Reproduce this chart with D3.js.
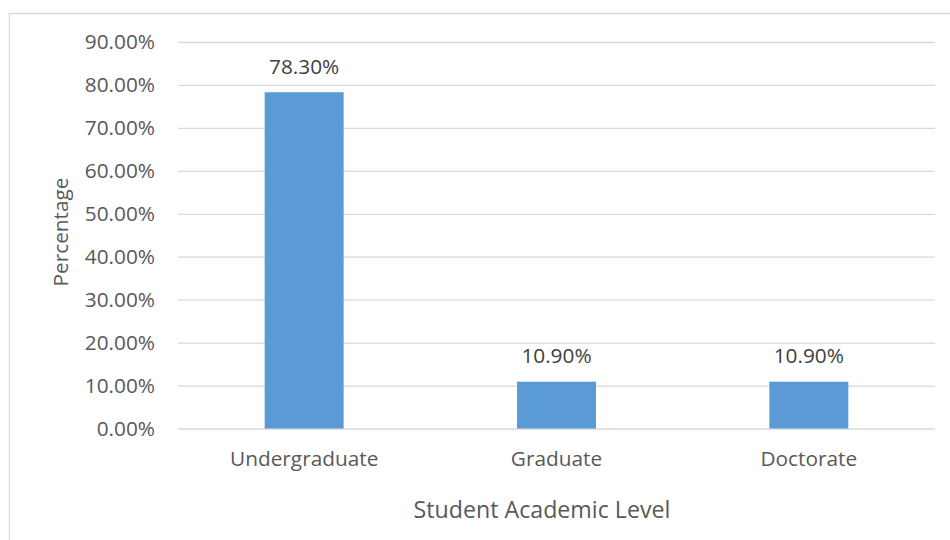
<!DOCTYPE html>
<html>
<head>
<meta charset="utf-8">
<script src="https://cdn.jsdelivr.net/npm/d3@7"></script>
<style>
  html, body { margin: 0; padding: 0; background: #fff; }
  svg { display: block; font-family: "Open Sans", sans-serif; }
</style>
</head>
<body>
<svg id="chart" width="950" height="540"></svg>
<script>
const categories = ["Undergraduate", "Graduate", "Doctorate"];
const values = [0.783, 0.109, 0.109];
const yTicks = [0, 0.1, 0.2, 0.3, 0.4, 0.5, 0.6, 0.7, 0.8, 0.9];
const yTitle = "Percentage";
const xTitle = "Student Academic Level";

const svg = d3.select("#chart");
const W = 950, H = 540;
const plot = { left: 178, right: 935, top: 42, bottom: 428.5 };
const FS = 20.8;
const TFS = 23.2;

// chart frame (top + left edges visible)
svg.append("path")
  .attr("d", `M9.5,${H} L9.5,13.5 L${W},13.5`)
  .attr("fill", "none").attr("stroke", "#d9d9d9").attr("stroke-width", 1.3);

const x = d3.scaleBand().domain(categories).range([plot.left, plot.right]).paddingInner(0.687).paddingOuter(0.3435);
const y = d3.scaleLinear().domain([0, 0.9]).range([plot.bottom, plot.top]);

// gridlines + y tick labels
const yAxis = d3.axisLeft(y).tickValues(yTicks).tickSize(-(plot.right - plot.left)).tickPadding(23)
  .tickFormat(d => (d * 100).toFixed(2) + "%");
const gy = svg.append("g").attr("transform", `translate(${plot.left},0)`).call(yAxis);
gy.attr("font-size", FS).attr("font-family", "Open Sans, sans-serif");
gy.select(".domain").remove();
gy.selectAll(".tick line").attr("stroke", "#d9d9d9").attr("stroke-width", 1.3);
gy.selectAll(".tick text").attr("fill", "#595959");

// bars
svg.append("g").selectAll("rect").data(values).join("rect")
  .attr("x", (d, i) => x(categories[i]))
  .attr("width", x.bandwidth())
  .attr("y", d => y(d))
  .attr("height", d => y(0) - y(d))
  .attr("fill", "#5b9bd5");

// data labels
svg.append("g").selectAll("text").data(values).join("text")
  .attr("x", (d, i) => x(categories[i]) + x.bandwidth() / 2)
  .attr("y", d => y(d) - 18.5)
  .attr("text-anchor", "middle")
  .attr("fill", "#404040").attr("font-size", FS)
  .text(d => (d * 100).toFixed(2) + "%");

// x axis labels
const xAxis = d3.axisBottom(x).tickSize(0).tickPadding(22.5);
const gx = svg.append("g").attr("transform", `translate(0,${plot.bottom})`).call(xAxis);
gx.attr("font-size", FS).attr("font-family", "Open Sans, sans-serif");
gx.select(".domain").remove();
gx.selectAll(".tick text").attr("fill", "#595959");

// axis titles
svg.append("text")
  .attr("x", 542).attr("y", 518)
  .attr("text-anchor", "middle").attr("fill", "#595959").attr("font-size", TFS)
  .text(xTitle);
svg.append("text")
  .attr("transform", `translate(68,232) rotate(-90)`)
  .attr("text-anchor", "middle").attr("fill", "#595959").attr("font-size", FS)
  .text(yTitle);
</script>
</body>
</html>
